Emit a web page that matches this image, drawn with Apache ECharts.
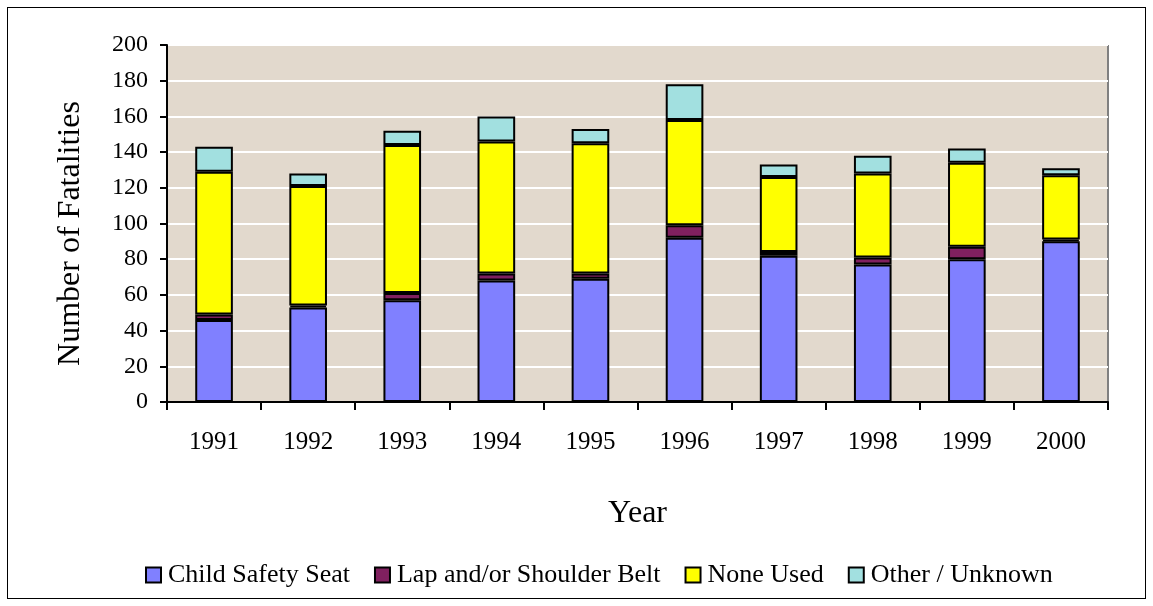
<!DOCTYPE html>
<html>
<head>
<meta charset="utf-8">
<script src="https://cdn.jsdelivr.net/npm/echarts@6/dist/echarts.min.js"></script>
<style>
  html, body { margin: 0; padding: 0; background: #fff; }
  #frame {
    position: absolute; left: 7px; top: 7px;
    width: 1137px; height: 590px;
    border: 1px solid #000;
  }
  #chart { position: absolute; left: 0; top: 0; width: 1153px; height: 606px; }
</style>
</head>
<body>
<div id="frame"></div>
<div id="chart"></div>
<script>
var years = ["1991", "1992", "1993", "1994", "1995", "1996", "1997", "1998", "1999", "2000"];
var childSeat = [46, 53, 57, 68, 69, 92, 82, 77, 80, 90];
var lapBelt = [3, 1, 4, 4, 3, 7, 2, 4, 7, 1];
var noneUsed = [80, 67, 83, 74, 73, 59, 42, 47, 47, 36];
var otherUnknown = [14, 7, 8, 14, 8, 20, 7, 10, 8, 4];

var serif = "Liberation Serif";
var myChart = echarts.init(document.getElementById("chart"));

function barSeries(name, color, data) {
  return {
    name: name,
    type: "bar",
    stack: "total",
    barWidth: "40%",
    itemStyle: { color: color, borderColor: "#000", borderWidth: 2 },
    data: data
  };
}

var option = {
  animation: false,
  textStyle: { fontFamily: serif },
  grid: { left: 167, right: 45, top: 45, bottom: 204, show: true, backgroundColor: "#e2d9cd", borderWidth: 0 },
  legend: {
    left: 140,
    top: 557,
    itemWidth: 15,
    itemHeight: 15,
    itemGap: 24,
    icon: "rect",
    textStyle: { fontFamily: serif, fontSize: 26, color: "#000", padding: [0, 0, 0, 2] },
    itemStyle: { borderColor: "#000", borderWidth: 2 },
    data: ["Child Safety Seat", "Lap and/or Shoulder Belt", "None Used", "Other / Unknown"]
  },
  xAxis: {
    type: "category",
    data: years,
    name: "Year",
    nameLocation: "middle",
    nameGap: 96,
    nameTextStyle: { fontFamily: serif, fontSize: 32, color: "#000", verticalAlign: "top" },
    axisLine: { lineStyle: { color: "#000", width: 2 } },
    axisTick: { show: true, length: 8, lineStyle: { color: "#000", width: 2 } },
    axisLabel: { fontFamily: serif, fontSize: 25, color: "#000", margin: 28 }
  },
  yAxis: {
    type: "value",
    min: 0,
    max: 200,
    interval: 20,
    name: "Number of Fatalities",
    nameLocation: "middle",
    nameGap: 80,
    nameTextStyle: { fontFamily: serif, fontSize: 32, color: "#000", padding: [0, 20, 0, 0] },
    axisLine: { show: true, lineStyle: { color: "#000", width: 2 } },
    axisTick: { show: true, length: 7, lineStyle: { color: "#000", width: 2 } },
    axisLabel: { fontFamily: serif, fontSize: 24, color: "#000", margin: 19 },
    splitLine: { show: true, lineStyle: { color: "#fff", width: 2 } }
  },
  graphic: [
    { type: "line", shape: { x1: 167, y1: 45, x2: 1108, y2: 45 }, style: { stroke: "#808080", lineWidth: 2 } },
    { type: "line", shape: { x1: 1108, y1: 45, x2: 1108, y2: 402 }, style: { stroke: "#808080", lineWidth: 2 } }
  ],
  series: [
    barSeries("Child Safety Seat", "#8080ff", childSeat),
    barSeries("Lap and/or Shoulder Belt", "#80205f", lapBelt),
    barSeries("None Used", "#ffff00", noneUsed),
    barSeries("Other / Unknown", "#a2e0e0", otherUnknown)
  ]
};

myChart.setOption(option);
</script>
</body>
</html>
